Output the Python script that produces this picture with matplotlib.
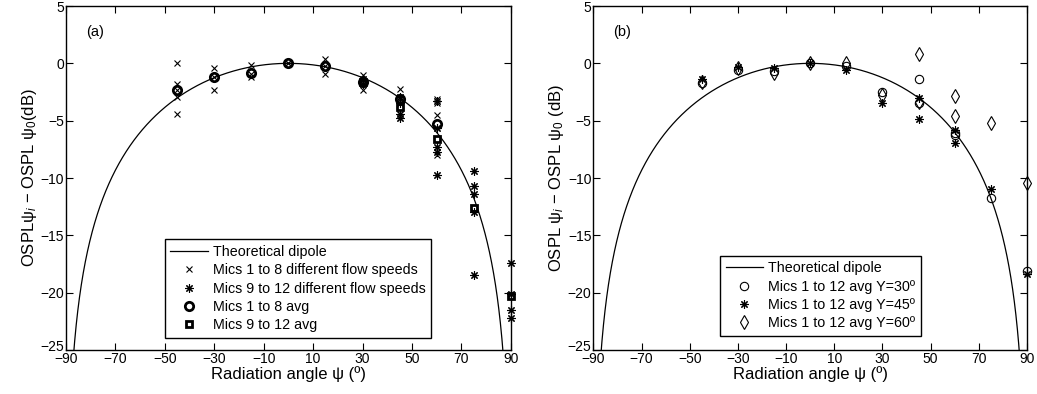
import numpy as np
import matplotlib
matplotlib.use('Agg')
import matplotlib.pyplot as plt
import matplotlib.transforms as mtransforms

plt.rcParams['font.family'] = ['Liberation Sans', 'DejaVu Sans']
plt.rcParams['font.size'] = 10
plt.rcParams['mathtext.fontset'] = 'custom'
plt.rcParams['mathtext.rm'] = 'Liberation Sans'
plt.rcParams['mathtext.it'] = 'Liberation Sans:italic'

# ---- panel (a) data ----
cross_ang = [-45, -45, -45, -45, -45, -30, -30, -30, -15, -15, -15, 0, 0,
             15, 15, 15, 30, 30, 30, 45, 45, 60, 60, 60, 60]
cross_val = [0.0, -1.8, -2.3, -2.9, -4.4, -0.4, -1.2, -2.3, -0.1, -0.9, -1.2, 0.0, 0.0,
             0.35, -0.2, -0.9, -1.0, -1.6, -2.3, -2.2, -3.1, -3.1, -3.5, -4.5, -8.0]
star_ang = [30, 30, 45, 45, 45, 45, 60, 60, 60, 60, 60,
            75, 75, 75, 75, 75, 90, 90, 90, 90]
star_val = [-1.4, -1.8, -2.9, -3.5, -4.4, -4.8, -3.3, -5.6, -7.3, -7.7, -9.7,
            -9.4, -10.7, -11.4, -13.0, -18.5, -17.4, -20.1, -21.5, -22.2]
avg18_ang = [-45, -30, -15, 0, 15, 30, 45, 60]
avg18_val = [-2.3, -1.2, -0.8, 0.0, -0.25, -1.6, -3.1, -5.3]
avg912_ang = [30, 45, 60, 75, 90]
avg912_val = [-1.6, -3.8, -6.6, -12.6, -20.3]

# ---- panel (b) data ----
y30_ang = [-45, -30, -15, 0, 15, 30, 45, 45, 60, 60, 75, 90]
y30_val = [-1.75, -0.6, -0.67, 0.0, -0.24, -2.47, -1.4, -3.5, -6.05, -6.26, -11.7, -18.1]
y45_ang = [-45, -30, -15, 0, 15, 30, 45, 45, 60, 60, 75, 90]
y45_val = [-1.4, -0.3, -0.38, 0.0, -0.58, -3.5, -3.0, -4.86, -5.82, -6.98, -11.0, -18.4]
y60_ang = [-45, -30, -15, 0, 15, 30, 45, 45, 60, 60, 75, 90]
y60_val = [-1.6, -0.44, -0.82, 0.0, 0.0, -2.77, 0.78, -3.35, -2.85, -4.6, -5.18, -10.4]

xticks = np.arange(-90, 91, 20)
yticks = np.arange(-25, 6, 5)

# theoretical dipole
psi = np.linspace(-89.99, 89.99, 2000)
dipole = 20 * np.log10(np.cos(np.radians(psi)))

asterisk = (8, 2, 0)

fig = plt.figure(figsize=(10.37, 3.94), dpi=100)
ax1 = fig.add_axes([0.0636, 0.1117, 0.429, 0.873])
ax2 = fig.add_axes([0.5723, 0.1117, 0.418, 0.873])


def style(ax, ylabel):
    ax.set_xlim(-90, 90)
    ax.set_ylim(-25, 5)
    ax.set_xticks(xticks)
    ax.set_yticks(yticks)
    ax.set_xticklabels([str(t).replace('-', '\u2212') for t in xticks])
    ax.set_yticklabels([str(t).replace('-', '\u2212') for t in yticks])
    ax.tick_params(direction='in', top=True, right=True, length=5, width=0.8,
                   labelsize=10, pad=1.5)
    for s in ax.spines.values():
        s.set_linewidth(1.0)
    ax.set_xlabel('Radiation angle ψ (º)', fontsize=12, labelpad=0)
    ax.set_ylabel(ylabel, fontsize=12, labelpad=1)
    # lift the bottom y label a little, as in the original
    lab = ax.get_yticklabels()[0]
    lab.set_transform(lab.get_transform() +
                      mtransforms.ScaledTranslation(0, 4 / 100, fig.dpi_scale_trans))


def leg(ax, anchor):
    lg = ax.legend(loc='lower left', bbox_to_anchor=anchor, fontsize=10.3,
                   frameon=True, fancybox=False, edgecolor='black', framealpha=1,
                   handlelength=2.6, handletextpad=0.35, labelspacing=0.3,
                   borderpad=0.4, borderaxespad=0)
    lg.get_frame().set_linewidth(1.0)


ax1.plot(psi, dipole, color='black', lw=0.9, label='Theoretical dipole')
ax1.plot(cross_ang, cross_val, ls='none', marker='x', ms=5, mew=0.8, color='black',
         clip_on=False, label='Mics 1 to 8 different flow speeds')
ax1.plot(star_ang, star_val, ls='none', marker=asterisk, ms=6, mew=0.8, color='black',
         clip_on=False, label='Mics 9 to 12 different flow speeds')
ax1.plot(avg18_ang, avg18_val, ls='none', marker='o', ms=6, mew=2, mfc='none',
         color='black', clip_on=False, label='Mics 1 to 8 avg')
ax1.plot(avg912_ang, avg912_val, ls='none', marker='s', ms=5, mew=2, mfc='none',
         color='black', clip_on=False, label='Mics 9 to 12 avg')
ax1.text(-82, 2.7, '(a)', fontsize=10.5, va='center')
style(ax1, 'OSPLψ$_i$ \u2212 OSPL ψ$_0$(dB)')
leg(ax1, (0.222, 0.035))

ax2.plot(psi, dipole, color='black', lw=0.9, label='Theoretical dipole')
ax2.plot(y30_ang, y30_val, ls='none', marker='o', ms=6, mew=0.8, mfc='none',
         color='black', clip_on=False, label='Mics 1 to 12 avg Y=30º')
ax2.plot(y45_ang, y45_val, ls='none', marker=asterisk, ms=6, mew=0.8,
         color='black', clip_on=False, label='Mics 1 to 12 avg Y=45º')
ax2.plot(y60_ang, y60_val, ls='none', marker='d', ms=7, mew=0.8, mfc='none',
         color='black', clip_on=False, label='Mics 1 to 12 avg Y=60º')
ax2.text(-82, 2.7, '(b)', fontsize=10.5, va='center')
style(ax2, 'OSPL ψ$_i$ \u2212 OSPL ψ$_0$ (dB)')
leg(ax2, (0.292, 0.041))

fig.savefig('out.png', dpi=100)
